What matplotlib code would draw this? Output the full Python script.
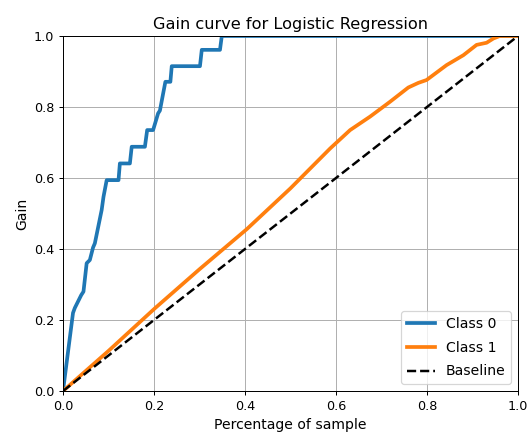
import matplotlib
matplotlib.use("Agg")
import matplotlib.pyplot as plt

# cumulative gain, class 0 (few positives -> stepped curve)
pct_0 = [0.0, 0.022, 0.026, 0.040, 0.045, 0.052, 0.059, 0.066, 0.070,
         0.085, 0.089, 0.096, 0.122, 0.125, 0.147, 0.151, 0.180, 0.185,
         0.198, 0.209, 0.213, 0.225, 0.236, 0.239, 0.301, 0.305, 0.345,
         0.349, 1.0]
gain_0 = [0.0, 0.220, 0.234, 0.270, 0.280, 0.360, 0.369, 0.404, 0.416,
          0.510, 0.547, 0.594, 0.594, 0.641, 0.641, 0.688, 0.688, 0.735,
          0.735, 0.782, 0.790, 0.871, 0.871, 0.915, 0.915, 0.961, 0.961,
          1.0, 1.0]

# cumulative gain, class 1
pct_1 = [0.0, 0.100, 0.202, 0.300, 0.404, 0.500, 0.587, 0.631, 0.675,
         0.719, 0.759, 0.781, 0.799, 0.843, 0.880, 0.909, 0.931, 0.946,
         0.960, 1.0]
gain_1 = [0.0, 0.113, 0.233, 0.343, 0.456, 0.571, 0.683, 0.735, 0.773,
          0.815, 0.855, 0.868, 0.876, 0.918, 0.946, 0.975, 0.981, 0.993,
          1.0, 1.0]

DPI = 89
fig = plt.figure(figsize=(528 / DPI, 444 / DPI), dpi=DPI)
ax = fig.add_axes([63 / 528, 1 - 391 / 444, 455 / 528, 355 / 444])

ax.plot(pct_0, gain_0, lw=3, label="Class 0")
ax.plot(pct_1, gain_1, lw=3, label="Class 1")
ax.plot([0, 1], [0, 1], "k--", lw=2, label="Baseline")

ax.set_xlim([0.0, 1.0])
ax.set_ylim([0.0, 1.0])
ax.set_title("Gain curve for Logistic Regression", fontsize=13)
ax.set_xlabel("Percentage of sample", fontsize=11.3)
ax.set_ylabel("Gain", fontsize=11.3)
ax.tick_params(labelsize=10.3)
ax.grid(True)
ax.legend(loc="lower right", fontsize=11.3, labelspacing=0.7)

fig.savefig("out.png", dpi=DPI)
